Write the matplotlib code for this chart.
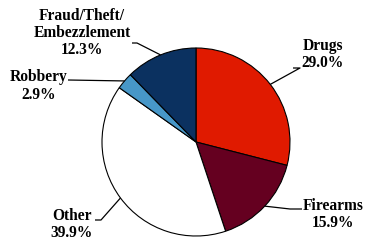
import numpy as np
import matplotlib
matplotlib.use("Agg")
import matplotlib.pyplot as plt

categories = ["Drugs", "Firearms", "Other", "Robbery", "Fraud/Theft/\nEmbezzlement"]
values = [29.0, 15.9, 39.9, 2.9, 12.3]
colors = ["#E01A00", "#650020", "#FFFFFF", "#4797C8", "#0B3160"]

W, H = 365, 241
fig = plt.figure(figsize=(W / 100, H / 100), dpi=100)
ax = fig.add_axes([0, 0, 1, 1])

cx, cy, r = 196, H - 142, 94
wedges, _ = ax.pie(values, colors=colors, startangle=90, counterclock=False,
                   center=(cx, cy), radius=r, frame=True,
                   wedgeprops=dict(edgecolor="black", linewidth=0.8))
ax.set_xlim(0, W)
ax.set_ylim(0, H)
ax.set_aspect("equal")
ax.axis("off")

# label layout (pixel coords from top): text center, leader elbow, leader end
layout = {
    "Drugs": dict(text=(323, 54.5), path=[(300, 68), (293, 68)]),
    "Firearms": dict(text=(333, 214.5), path=[(290, 209), (302, 209)]),
    "Other": dict(text=(72, 224.5), path=[(101, 220), (95, 220)]),
    "Robbery": dict(text=(38.5, 86), path=[(68, 80)]),
    "Fraud/Theft/\nEmbezzlement": dict(text=(82, 33), path=[(137, 43), (132, 43)]),
}

for w, cat, val in zip(wedges, categories, values):
    mid = np.deg2rad((w.theta1 + w.theta2) / 2)
    px, py = cx + r * np.cos(mid), cy + r * np.sin(mid)
    lay = layout[cat]
    xs = [px] + [p[0] for p in lay["path"]]
    ys = [py] + [H - p[1] for p in lay["path"]]
    ax.plot(xs, ys, color="black", linewidth=0.9, solid_capstyle="butt")
    tx, ty = lay["text"]
    ax.text(tx, H - ty, f"{cat}\n{val:.1f}%", ha="center", va="center",
            fontsize=11.2, fontweight="bold", family="Liberation Serif",
            linespacing=1.1)

fig.savefig("out.png", dpi=100)
